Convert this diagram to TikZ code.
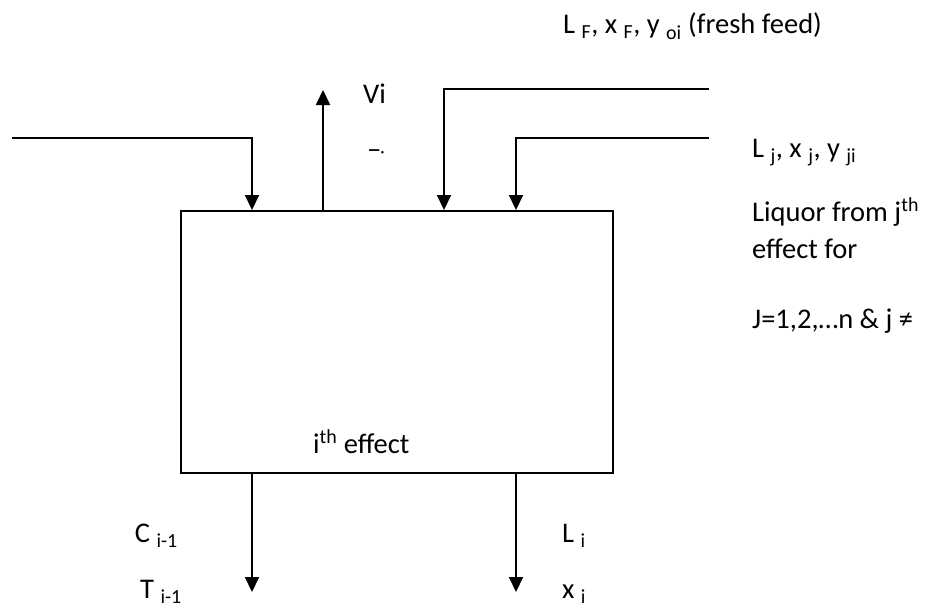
\documentclass[tikz,border=0pt]{standalone}
\usepackage{fontspec}
\setmainfont{Carlito}
\usetikzlibrary{arrows.meta}
\begin{document}
\begin{tikzpicture}[x=1pt,y=-1pt,
  flow/.style={line width=2pt,-{Triangle[width=14pt,length=15pt]}},
  lbl/.style={inner sep=0pt,anchor=base west,font=\fontsize{28.5}{34}\selectfont}]
\useasboundingbox (0,0) rectangle (925,610);
\node[draw,line width=2pt,minimum width=432pt,minimum height=262pt,inner sep=0pt,anchor=north west] (box) at (180,210) {};
% free ends
\coordinate (inA) at (12,138);
\coordinate (inAc) at (252,138);
\coordinate (vtop) at (323,90);
\coordinate (ffA) at (709,89);
\coordinate (ffc) at (444,89);
\coordinate (ljA) at (709,138);
\coordinate (ljc) at (516,138);
\coordinate (cout) at (252,592);
\coordinate (lout) at (516,592);
% connectors
\draw[flow] (inA) -- (inAc) -- (inAc |- box.north);
\draw[flow] (vtop |- box.north) -- (vtop);
\draw[flow] (ffA) -- (ffc) -- (ffc |- box.north);
\draw[flow] (ljA) -- (ljc) -- (ljc |- box.north);
\draw[flow] (cout |- box.south) -- (cout);
\draw[flow] (lout |- box.south) -- (lout);
% labels
\node[lbl] (tff) at (563,34) {L \textsubscript{F}, x \textsubscript{F}, y \textsubscript{oi} (fresh feed)};
\node[lbl] (tvi) at (363,103) {Vi};
\node[lbl] (tdash) at (367,158) {\textendash\kern-1pt\raisebox{1pt}{\scalebox{0.6}{\textperiodcentered}}};
\node[lbl] (tlj) at (752,157) {L \textsubscript{j}, x \textsubscript{j}, y \textsubscript{ji}};
\node[lbl] (tliq) at (752,221) {Liquor from j\textsuperscript{th}};
\node[lbl] (teff) at (752,258) {effect for};
\node[lbl] (tj) at (752,328) {J=1,2,…n \& j ≠};
\node[lbl] (tith) at (313,453) {i\textsuperscript{th} effect};
\node[lbl,anchor=base east] (tc) at (178,542) {C \textsubscript{i-1}};
\node[lbl,anchor=base east] (tt) at (182,598) {T \textsubscript{i-1}};
\node[lbl] (tli) at (562,542) {L \textsubscript{i}};
\node[lbl] (txi) at (562,598) {x \textsubscript{i}};
\end{tikzpicture}
\end{document}
